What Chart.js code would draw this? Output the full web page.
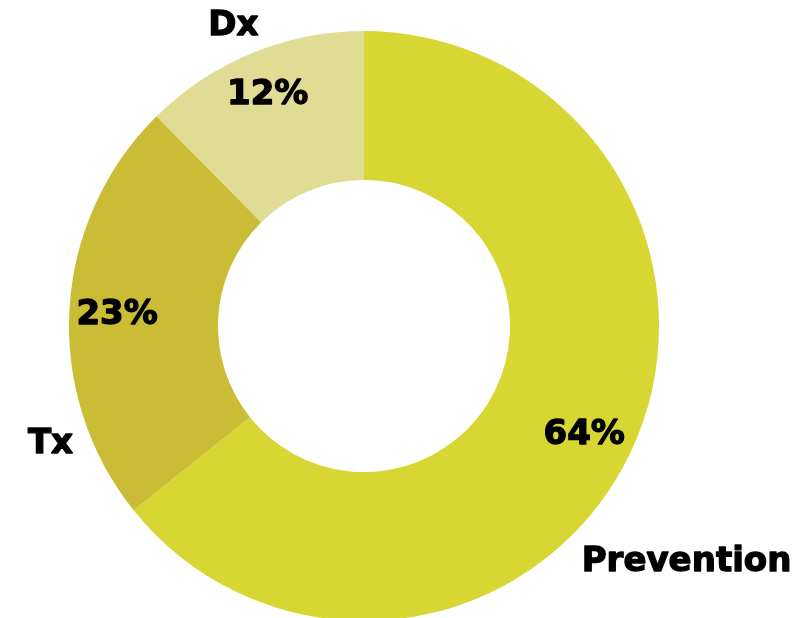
<!DOCTYPE html>
<html>
<head>
<meta charset="utf-8">
<script src="https://cdn.jsdelivr.net/npm/chart.js@4/dist/chart.umd.min.js"></script>
<style>
  html, body { margin: 0; padding: 0; background: #ffffff; overflow: hidden; width: 811px; height: 618px; }
  #wrap { width: 811px; height: 640px; }
</style>
</head>
<body>
<div id="wrap"><canvas id="c" width="811" height="640"></canvas></div>
<script>
// ---- data ----
const categories = ["Prevention", "Tx", "Dx"];
const shareValues = [64.2, 23.3, 12.4];
const sliceColors = ["#D7D633", "#CABC34", "#E1DC94"];

// ---- label layout (clock angle in degrees from top, radius as fraction of outer radius) ----
const categoryLabelLayout = [
  { angle: 125.8, radius: 1.348 },
  { angle: 250.0, radius: 1.131 },
  { angle: 336.7, radius: 1.119 }
];
const pctRadiusFrac = [0.66, 0.68, 0.72];
const LABEL_FONT = 'bold 34px "DejaVu Sans"';
const CAP = 0.729 * 34;

const total = shareValues.reduce((a, b) => a + b, 0);

const labelPlugin = {
  id: 'sliceLabels',
  afterDatasetsDraw(chart) {
    const ctx = chart.ctx;
    const meta = chart.getDatasetMeta(0);
    ctx.save();
    ctx.font = LABEL_FONT;
    ctx.fillStyle = '#000000';
    ctx.strokeStyle = '#000000';
    ctx.lineWidth = 1.3;
    ctx.lineJoin = 'round';
    ctx.textAlign = 'center';
    ctx.textBaseline = 'alphabetic';
    const draw = (t, x, y) => { ctx.fillText(t, x, y); ctx.strokeText(t, x, y); };
    meta.data.forEach((arc, i) => {
      const p = arc.getProps(['x', 'y', 'startAngle', 'endAngle', 'innerRadius', 'outerRadius'], true);
      const mid = (p.startAngle + p.endAngle) / 2;
      const r = p.innerRadius + pctRadiusFrac[i] * (p.outerRadius - p.innerRadius);
      const pct = Math.round(shareValues[i] / total * 100) + '%';
      draw(pct, p.x + Math.cos(mid) * r, p.y + Math.sin(mid) * r + CAP / 2);
      const lay = categoryLabelLayout[i];
      const a = (lay.angle - 90) * Math.PI / 180;
      const rr = lay.radius * p.outerRadius;
      draw(categories[i], p.x + Math.cos(a) * rr, p.y + Math.sin(a) * rr + CAP / 2);
    });
    ctx.restore();
  }
};

new Chart(document.getElementById('c'), {
  type: 'doughnut',
  data: {
    labels: categories,
    datasets: [{
      data: shareValues,
      backgroundColor: sliceColors,
      borderWidth: 0,
      hoverOffset: 0,
      offset: 0
    }]
  },
  options: {
    responsive: false,
    animation: false,
    cutout: '49.5%',
    layout: { padding: { left: 69, right: 152, top: 31, bottom: 19 } },
    plugins: {
      legend: { display: false },
      tooltip: { enabled: false }
    }
  },
  plugins: [labelPlugin]
});
</script>
</body>
</html>
